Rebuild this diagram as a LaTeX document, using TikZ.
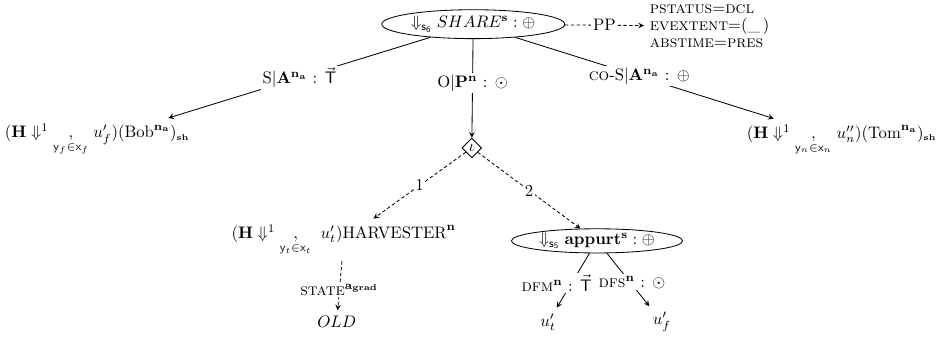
\documentclass[tikz,border=0pt]{standalone}
\usepackage{amsmath}
\usetikzlibrary{shapes.geometric}
\begin{document}
\begin{tikzpicture}[>=stealth, line width=0.5pt]
    % Define styles
    \tikzstyle{pred} = [draw, ellipse, inner sep=0pt]
    \tikzstyle{quant} = [draw, diamond, inner sep=1pt]
    \tikzstyle{role} = [fill=white, inner sep=1pt]
    \tikzstyle{link} = [dash pattern=on 2pt off 1.5pt]

    \useasboundingbox (0,0) rectangle (19.74,7.13);

    % Nodes
    \node[pred, minimum width=3.86cm, minimum height=0.61cm] (share) at (9.98, 6.62) {$\Downarrow_{\mathsf{s_6}} SHARE^{\mathbf{s}} : \oplus$};
    \node[anchor=west, align=left] (attrs) at (13.58, 6.58) {\textsc{pstatus}=\textsc{dcl}\\[-1.8pt] \textsc{evextent}=(\_\,)\\[-1.8pt] \textsc{abstime}=\textsc{pres}};
    \node[quant] (iota) at (9.95, 4.01) {$\iota$};
    \node (bob) at (2.05, 4.18) {$(\mathbf{H}\Downarrow^{1}\underset{\mathsf{y}_f\in\mathsf{x}_f}{,}\; u'_f)(\mathrm{Bob}^{\mathbf{n_a}})_{\scriptscriptstyle\mathbf{sh}}$};
    \node (tom) at (17.75, 4.18) {$(\mathbf{H}\Downarrow^{1}\underset{\mathsf{y}_n\in\mathsf{x}_n}{,}\; u''_n)(\mathrm{Tom}^{\mathbf{n_a}})_{\scriptscriptstyle\mathbf{sh}}$};
    \node (harv) at (7.25, 2.07) {$(\mathbf{H}\Downarrow^{1}\underset{\mathsf{y}_t\in\mathsf{x}_t}{,}\;\; u'_t)\mathrm{HARVESTER}^{\mathbf{n}}$};
    \node[pred, minimum width=3.61cm, minimum height=0.51cm] (appurt) at (12.59, 2.05) {$\Downarrow_{\mathsf{s_5}} \mathbf{appurt}^{\mathbf{s}} : \oplus$};
    \node (old) at (7.10, 0.34) {$OLD$};
    \node (ut) at (11.56, 0.34) {$u'_t$};
    \node (uf) at (13.96, 0.34) {$u'_f$};

    % Role arrows
    \draw[->] (share) -- node[role] {S$|\mathbf{A}^{\mathbf{n_a}}$ : $\vec{\mathsf{T}}$} (bob);
    \draw[->] (share) -- node[role, pos=0.45] {O$|\mathbf{P}^{\mathbf{n}}$ : $\odot$} (iota);
    \draw[->] (share) -- node[role, pos=0.48] {\textsc{co}-S$|\mathbf{A}^{\mathbf{n_a}}$ : $\oplus$} (tom);
    \draw[->, link] (share) -- node[role] {PP} (attrs);

    \draw[->, link] (iota) -- node[role] {1} (harv);
    \draw[->, link] (iota) -- node[role] {2} (appurt);
    \draw[->, link] (harv) -- node[role, pos=0.58] {\textsc{state}$^{\mathbf{a_{grad}}}$} (old);

    \draw[->] (appurt) -- node[role, pos=0.55, xshift=-9pt] {\textsc{dfm}$^{\mathbf{n}}$ : $\vec{\mathsf{T}}$} (ut);
    \draw[->] (appurt) -- node[role, pos=0.55, xshift=1pt] {\textsc{dfs}$^{\mathbf{n}}$ : $\odot$} (uf);
\end{tikzpicture}
\end{document}
